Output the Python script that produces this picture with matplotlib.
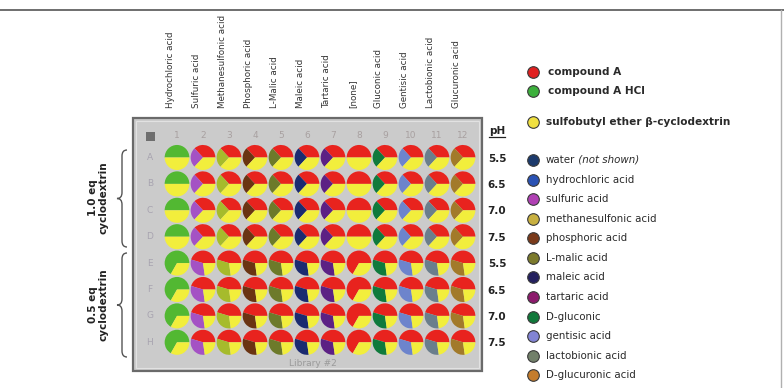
import matplotlib
matplotlib.use("Agg")
import matplotlib.pyplot as plt
from matplotlib.patches import Rectangle, PathPatch
from matplotlib.path import Path

# plate layout: 12 acid columns x 8 rows (A-H)
acid_labels = ["Hydrochloric acid", "Sulfuric acid", "Methanesulfonic acid",
               "Phosphoric acid", "L-Malic acid", "Maleic acid", "Tartaric acid",
               "[none]", "Gluconic acid", "Gentisic acid", "Lactobionic acid",
               "Glucuronic acid"]
acid_colors = ["#52b832", "#a452c4", "#a6bb2c", "#6a3412", "#6d7a2a", "#1b2b70",
               "#5c2184", "#e82a22", "#0f7a3c", "#6d84cc", "#6a7e8c", "#a27a2a"]
acid_share = [0, 0.7, 0.7, 0.7, 0.7, 0.7, 0.7, 0, 0.7, 0.7, 0.7, 0.7]
row_labels = ["A", "B", "C", "D", "E", "F", "G", "H"]
cd_eq = [1.0, 1.0, 1.0, 1.0, 0.5, 0.5, 0.5, 0.5]
ph_values = ["5.5", "6.5", "7.0", "7.5", "5.5", "6.5", "7.0", "7.5"]

compound_color = "#e8231e"
salt_color = "#52b832"
cd_color = "#f2ee3c"

legend_labels = ["compound A", "compound A HCl", "sulfobutyl ether \u03b2-cyclodextrin",
                 "water", "hydrochloric acid", "sulfuric acid", "methanesulfonic acid",
                 "phosphoric acid", "L-malic acid", "maleic acid", "tartaric acid",
                 "D-gluconic", "gentisic acid", "lactobionic acid", "D-glucuronic acid"]
legend_colors = ["#e02020", "#3cb03c", "#f0e040", "#1c3a6c", "#2a52b4", "#b040b4",
                 "#c8b040", "#7a3a1a", "#7c7a2c", "#24205e", "#8c1a6c", "#10783a",
                 "#8284d4", "#72806a", "#c47c2c"]
legend_bold = [True, True, True] + [False] * 12
legend_y = [72, 91, 122, 160, 180, 199, 219, 238, 258, 277, 297, 317, 336, 356, 375]

W, H = 784, 388
fig = plt.figure(figsize=(W / 100, H / 100), dpi=100)
ax = fig.add_axes([0, 0, 1, 1])

# well grid in pixel units
x0, dx = 177, 26.0
y0, dy = 157.5, 26.4

# frame lines
ax.plot([0, W], [10, 10], color="#555555", lw=1.2)
ax.plot([781, 781], [10, H], color="#b0b0b0", lw=1)

# plate body
ax.add_patch(Rectangle((133, 118), 349, 253, facecolor="#cbcbcb",
                       edgecolor="#6a6a6a", lw=1.6, zorder=1))
ax.add_patch(Rectangle((136, 121), 343, 247, facecolor="none",
                       edgecolor="#e2e2e2", lw=0.8, zorder=1))
ax.add_patch(Rectangle((146.5, 131.5), 9, 9, facecolor="#6e6e6e",
                       edgecolor="none", zorder=2))
ax.text(313, 364, "Library #2", color="#9a9a9a", fontsize=6.5,
        ha="center", va="center", zorder=2)

for j, lab in enumerate(acid_labels):
    cx = x0 + j * dx
    ax.text(cx - 6.5, 108, lab, rotation=90, ha="center", va="bottom",
            fontsize=6.3, color="#333333")
    ax.text(cx, 136, str(j + 1), ha="center", va="center",
            fontsize=6.5, color="#a8a0a0", zorder=2)

for i, row in enumerate(row_labels):
    cy = y0 + i * dy
    ax.text(150, cy, row, ha="center", va="center", fontsize=6.5,
            color="#a8a4b0", zorder=2)
    ax.text(497, cy + 1, ph_values[i], ha="center", va="center",
            fontsize=7.5, fontweight="bold", color="#222222")

# wells: one pie per well, column index on x, -row index on y
pax = fig.add_axes([(x0 - dx / 2) / W, (H - (y0 + 7.5 * dy)) / H,
                    12 * dx / W, 8 * dy / H])
for i in range(len(row_labels)):
    for j in range(len(acid_labels)):
        main = salt_color if j == 0 else compound_color
        fracs = [1.0, acid_share[j], cd_eq[i]]
        cols = [main, acid_colors[j], cd_color]
        pax.pie(fracs, colors=cols, center=(j + 1, -i), radius=0.475,
                startangle=0, counterclock=True, frame=True,
                wedgeprops=dict(linewidth=0))
pax.set_xlim(0.5, 12.5)
pax.set_ylim(-7.5, 0.5)
pax.set_aspect("auto")
pax.axis("off")

# pH header
ax.text(497, 131, "pH", ha="center", va="center", fontsize=7.5,
        fontweight="bold", color="#222222")
ax.plot([489, 505], [137, 137], color="#222222", lw=0.9)


def brace(x, ya, yb, w=10, q=6):
    ym = (ya + yb) / 2
    xm = x + w / 2
    verts = [(x + w, ya), (xm, ya), (xm, ya + q), (xm, ym - q), (xm, ym), (x, ym),
             (xm, ym), (xm, ym + q), (xm, yb - q), (xm, yb), (x + w, yb)]
    codes = [Path.MOVETO, Path.CURVE3, Path.CURVE3, Path.LINETO, Path.CURVE3,
             Path.CURVE3, Path.CURVE3, Path.CURVE3, Path.LINETO, Path.CURVE3,
             Path.CURVE3]
    ax.add_patch(PathPatch(Path(verts, codes), facecolor="none",
                           edgecolor="#555555", lw=1))


brace(117, 150, 247)
brace(117, 253, 357)
ax.text(98, 198, "1.0 eq\ncyclodextrin", rotation=90, ha="center", va="center",
        fontsize=7.5, fontweight="bold", color="#222222", linespacing=1.1)
ax.text(98, 305, "0.5 eq\ncyclodextrin", rotation=90, ha="center", va="center",
        fontsize=7.5, fontweight="bold", color="#222222", linespacing=1.1)

# legend
for lab, col, bold, ly in zip(legend_labels, legend_colors, legend_bold, legend_y):
    ax.scatter([533], [ly], s=70, color=col, edgecolors="#3a3a3a",
               linewidths=0.8, zorder=4)
    tx = 548 if lab.startswith("compound") else 546
    t = ax.text(tx, ly, lab, ha="left", va="center", color="#2a2a2a",
                fontsize=7.6 if bold else 7.4,
                fontweight="bold" if bold else "normal")
    if lab == "water":
        ax.annotate(" (not shown)", xy=(1, 0.5), xycoords=t, va="center",
                    ha="left", fontsize=7.4, fontstyle="italic", color="#2a2a2a")

ax.set_xlim(0, W)
ax.set_ylim(H, 0)
ax.set_aspect("auto")
ax.axis("off")

fig.savefig("out.png", dpi=100)
